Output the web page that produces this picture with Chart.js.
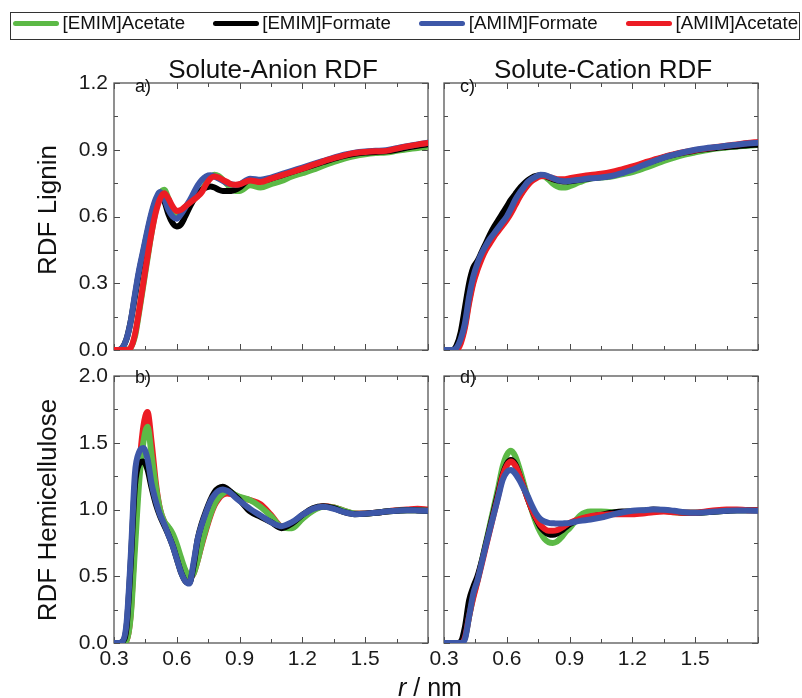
<!DOCTYPE html>
<html><head><meta charset="utf-8">
<script src="https://cdn.jsdelivr.net/npm/chart.js@4.4.1/dist/chart.umd.min.js"></script>
<style>
html,body{margin:0;padding:0;background:#fff;}
#wrap{position:relative;width:802px;height:698px;overflow:hidden;font-family:"Liberation Sans",Arial,sans-serif;color:#111;}
canvas{position:absolute;left:0;top:0;}
.t{position:absolute;white-space:nowrap;line-height:1;}
.sw{position:absolute;height:5px;border-radius:2.5px;}
</style></head><body>
<div id="wrap">
<canvas id="cA" width="802" height="698"></canvas>
<canvas id="cB" width="802" height="698"></canvas>
<canvas id="cC" width="802" height="698"></canvas>
<canvas id="cD" width="802" height="698"></canvas>
<div id="legbox" style="position:absolute;left:10px;top:12px;width:788px;height:26px;border:1px solid #333;"></div>
<div id="legend"></div>
<div class="t" style="left:273px;top:56px;font-size:26px;transform:translateX(-50%);">Solute-Anion RDF</div>
<div class="t" style="left:603px;top:56px;font-size:26px;transform:translateX(-50%);">Solute-Cation RDF</div>
<div class="t" style="left:47px;top:210px;font-size:26px;transform:translate(-50%,-50%) rotate(-90deg);">RDF Lignin</div>
<div class="t" style="left:47px;top:510px;font-size:26px;transform:translate(-50%,-50%) rotate(-90deg);">RDF Hemicellulose</div>
<div class="t" style="left:430px;top:675px;font-size:25px;transform:translateX(-50%);"><i>r</i> / nm</div>
<div class="t" style="left:135px;top:77px;font-size:18px;">a)</div>
<div class="t" style="left:135px;top:368px;font-size:18px;">b)</div>
<div class="t" style="left:460px;top:77px;font-size:18px;">c)</div>
<div class="t" style="left:460px;top:368px;font-size:18px;">d)</div>
</div>
<script>
// ---------- data ----------
const SERIES = ['[EMIM]Acetate', '[EMIM]Formate', '[AMIM]Formate', '[AMIM]Acetate'];
const COLORS = ['#5cb946', '#000000', '#3d57a8', '#ec1c24'];
const R = [0.30,0.32,0.34,0.36,0.38,0.40,0.42,0.44,0.46,0.48,0.50,0.52,0.54,0.56,0.58,0.60,0.62,0.64,0.66,0.68,0.70,0.72,0.74,0.76,0.78,0.80,0.82,0.84,0.86,0.88,0.90,0.95,1.00,1.05,1.10,1.15,1.20,1.25,1.30,1.35,1.40,1.45,1.50,1.55,1.60,1.65,1.70,1.75,1.80];
const X_TICKS = [0.3, 0.6, 0.9, 1.2, 1.5];

// a) Solute-Anion, Lignin
const anionLigninEmimAc = [0,0,0,0,0.01,0.06,0.17,0.29,0.41,0.53,0.63,0.70,0.72,0.68,0.625,0.60,0.61,0.63,0.655,0.675,0.695,0.72,0.75,0.775,0.788,0.782,0.765,0.745,0.725,0.715,0.715,0.74,0.73,0.745,0.76,0.78,0.795,0.81,0.828,0.845,0.86,0.872,0.88,0.885,0.888,0.895,0.902,0.908,0.915];
const anionLigninEmimFo = [0,0,0.01,0.05,0.13,0.24,0.35,0.44,0.53,0.61,0.67,0.70,0.67,0.61,0.57,0.555,0.565,0.60,0.64,0.675,0.70,0.72,0.73,0.735,0.73,0.72,0.715,0.715,0.715,0.72,0.73,0.765,0.76,0.77,0.785,0.80,0.815,0.83,0.845,0.86,0.873,0.882,0.888,0.89,0.893,0.90,0.91,0.918,0.925];
const anionLigninAmimFo = [0,0,0.01,0.05,0.13,0.25,0.36,0.45,0.54,0.62,0.68,0.71,0.68,0.63,0.60,0.59,0.61,0.64,0.67,0.705,0.74,0.765,0.78,0.785,0.78,0.77,0.76,0.75,0.745,0.742,0.745,0.77,0.765,0.775,0.79,0.805,0.82,0.835,0.85,0.865,0.878,0.887,0.892,0.895,0.898,0.907,0.916,0.924,0.932];
const anionLigninAmimAc = [0,0,0,0,0.01,0.07,0.18,0.30,0.42,0.53,0.62,0.68,0.705,0.68,0.645,0.625,0.63,0.645,0.66,0.675,0.69,0.71,0.745,0.77,0.78,0.775,0.765,0.755,0.745,0.743,0.745,0.762,0.755,0.77,0.785,0.80,0.815,0.832,0.848,0.862,0.875,0.885,0.89,0.893,0.895,0.905,0.915,0.923,0.93];

// b) Solute-Anion, Hemicellulose
const anionHemiEmimAc = [0,0,0,0.02,0.2,0.7,1.2,1.5,1.62,1.40,1.17,1.0,0.91,0.87,0.82,0.74,0.64,0.55,0.495,0.52,0.62,0.75,0.86,0.96,1.04,1.09,1.12,1.14,1.13,1.11,1.095,1.07,1.02,0.95,0.87,0.86,0.93,0.99,1.02,1.015,0.99,0.97,0.968,0.975,0.985,0.99,0.995,0.995,0.99];
const anionHemiEmimFo = [0,0,0.01,0.12,0.6,1.18,1.34,1.36,1.30,1.16,1.04,0.95,0.88,0.81,0.73,0.63,0.53,0.465,0.45,0.58,0.78,0.90,0.99,1.07,1.13,1.16,1.17,1.155,1.13,1.10,1.07,0.985,0.945,0.905,0.86,0.895,0.96,1.01,1.025,1.01,0.98,0.965,0.968,0.975,0.985,0.99,0.995,0.993,0.99];
const anionHemiAmimFo = [0,0,0.01,0.15,0.65,1.27,1.43,1.46,1.38,1.19,1.06,0.96,0.89,0.81,0.73,0.63,0.53,0.465,0.445,0.6,0.78,0.89,0.98,1.06,1.11,1.14,1.15,1.14,1.12,1.09,1.065,1.005,0.955,0.905,0.875,0.905,0.96,1.005,1.02,1.005,0.98,0.965,0.968,0.975,0.985,0.99,0.995,0.993,0.99];
const anionHemiAmimAc = [0,0,0,0.02,0.22,0.8,1.3,1.62,1.73,1.50,1.2,1.0,0.91,0.86,0.80,0.72,0.62,0.54,0.49,0.52,0.62,0.74,0.85,0.95,1.03,1.08,1.11,1.12,1.115,1.10,1.09,1.07,1.04,0.96,0.875,0.87,0.935,0.995,1.025,1.015,0.99,0.97,0.97,0.975,0.985,0.995,1.0,1.005,1.0];

// c) Solute-Cation, Lignin
const cationLigninEmimAc = [0,0,0,0.005,0.04,0.11,0.22,0.31,0.37,0.42,0.46,0.49,0.52,0.545,0.57,0.595,0.625,0.66,0.69,0.72,0.745,0.765,0.777,0.783,0.78,0.765,0.748,0.736,0.73,0.73,0.736,0.755,0.77,0.775,0.78,0.79,0.80,0.815,0.832,0.85,0.865,0.878,0.888,0.897,0.905,0.91,0.915,0.918,0.922];
const cationLigninEmimFo = [0,0,0,0.02,0.08,0.19,0.30,0.37,0.40,0.44,0.48,0.52,0.555,0.585,0.615,0.645,0.675,0.70,0.725,0.745,0.762,0.775,0.782,0.785,0.783,0.775,0.768,0.762,0.758,0.757,0.758,0.765,0.772,0.777,0.785,0.798,0.815,0.833,0.85,0.866,0.878,0.888,0.897,0.903,0.908,0.912,0.916,0.92,0.923];
const cationLigninAmimFo = [0,0,0,0.01,0.05,0.12,0.24,0.33,0.39,0.435,0.47,0.50,0.525,0.55,0.575,0.60,0.635,0.675,0.705,0.73,0.755,0.77,0.78,0.788,0.787,0.78,0.772,0.765,0.76,0.758,0.76,0.765,0.772,0.775,0.782,0.795,0.81,0.83,0.848,0.865,0.878,0.89,0.90,0.907,0.912,0.918,0.923,0.928,0.932];
const cationLigninAmimAc = [0,0,0,0,0.03,0.10,0.21,0.30,0.36,0.41,0.45,0.48,0.51,0.535,0.56,0.585,0.615,0.65,0.685,0.715,0.74,0.76,0.772,0.78,0.782,0.778,0.772,0.768,0.767,0.768,0.772,0.78,0.787,0.792,0.80,0.812,0.825,0.84,0.855,0.868,0.88,0.89,0.898,0.905,0.912,0.918,0.924,0.93,0.935];

// d) Solute-Cation, Hemicellulose
const cationHemiEmimAc = [0,0,0,0,0,0.04,0.2,0.35,0.47,0.61,0.75,0.89,1.03,1.17,1.32,1.41,1.44,1.40,1.31,1.20,1.09,0.99,0.90,0.83,0.78,0.755,0.75,0.76,0.79,0.83,0.86,0.955,0.985,0.985,0.98,0.98,0.985,0.99,0.995,0.99,0.98,0.975,0.975,0.98,0.985,0.99,0.995,0.995,0.995];
const cationHemiEmimFo = [0,0,0,0,0.01,0.12,0.32,0.42,0.50,0.61,0.74,0.87,1.0,1.13,1.26,1.34,1.37,1.34,1.26,1.17,1.08,1.0,0.93,0.87,0.835,0.815,0.81,0.82,0.84,0.865,0.89,0.925,0.945,0.96,0.975,0.985,0.985,0.99,1.0,0.995,0.985,0.975,0.975,0.98,0.985,0.99,0.995,0.995,0.995];
const cationHemiAmimFo = [0,0,0,0,0,0.03,0.2,0.37,0.47,0.6,0.73,0.855,0.975,1.10,1.22,1.28,1.295,1.27,1.22,1.16,1.10,1.03,0.97,0.93,0.91,0.90,0.897,0.895,0.895,0.897,0.90,0.915,0.925,0.94,0.96,0.978,0.99,0.995,1.0,0.998,0.99,0.98,0.975,0.98,0.985,0.99,0.993,0.993,0.99];
const cationHemiAmimAc = [0,0,0,0,0,0.04,0.2,0.34,0.46,0.59,0.72,0.85,0.98,1.11,1.25,1.33,1.36,1.33,1.26,1.17,1.08,1.0,0.935,0.885,0.855,0.84,0.84,0.845,0.86,0.88,0.90,0.93,0.95,0.96,0.965,0.965,0.965,0.97,0.98,0.985,0.98,0.975,0.975,0.985,0.995,1.0,1.0,0.995,0.995];

// ---------- legend ----------
const LEG_X = [13, 212.7, 419.3, 626];
const leg = document.getElementById('legend');
SERIES.forEach((name, i) => {
  const sw = document.createElement('div');
  sw.className = 'sw';
  sw.style.cssText = `left:${LEG_X[i]}px;top:20.5px;width:46px;background:${COLORS[i]};`;
  leg.appendChild(sw);
  const tx = document.createElement('div');
  tx.className = 't';
  tx.style.cssText = `left:${LEG_X[i] + 49.5}px;top:14px;font-size:18.7px;`;
  tx.textContent = name;
  leg.appendChild(tx);
});

// ---------- frame + inward ticks ----------
const framePlugin = {
  id: 'frame',
  beforeDatasetsDraw(chart, args, o) {
    const {ctx, chartArea: a, scales: {x, y}} = chart;
    const ln = (x1, y1, x2, y2) => { ctx.beginPath(); ctx.moveTo(x1, y1); ctx.lineTo(x2, y2); ctx.stroke(); };
    ctx.save();
    ctx.strokeStyle = '#4a4a4a';
    ctx.lineWidth = 1;
    for (let k = 0; k <= 10; k++) {
      const px = Math.round(x.getPixelForValue(0.3 + 0.15 * k)) + 0.5;
      const L = k % 2 === 0 ? 6 : 4;
      ln(px, a.bottom, px, a.bottom - L);
      ln(px, a.top, px, a.top + L);
    }
    const n = Math.round(o.ymax / o.ystep);
    for (let k = 0; k <= n; k++) {
      const py = Math.round(y.getPixelForValue(o.ystep * k)) + 0.5;
      const L = k % 2 === 0 ? 6 : 4;
      ln(a.left, py, a.left + L, py);
      ln(a.right, py, a.right - L, py);
    }
    ctx.strokeStyle = '#555';
    ctx.lineWidth = 1.3;
    ctx.strokeRect(a.left, a.top, a.right - a.left, a.bottom - a.top);
    ctx.restore();
  }
};

const Y_AXIS_W = 60, X_AXIS_H = 40;
function makeChart(id, box, series, order, ymax, ymajor, showX, showY) {
  const datasets = series.map((arr, i) => ({
    label: SERIES[i],
    data: R.map((r, j) => ({x: r, y: arr[j]})),
    borderColor: COLORS[i],
    borderWidth: 6,
    pointRadius: 0,
    fill: false,
    cubicInterpolationMode: 'monotone',
    borderCapStyle: 'round',
    borderJoinStyle: 'round',
    order: order[i]
  }));
  const tickFont = {family: '"Liberation Sans", Arial, sans-serif', size: 21};
  return new Chart(document.getElementById(id), {
    type: 'line',
    data: {datasets},
    options: {
      responsive: false,
      animation: false,
      events: [],
      layout: {padding: {left: box[0] - Y_AXIS_W, top: box[1], right: 802 - box[2], bottom: 698 - box[3] - X_AXIS_H}},
      plugins: {legend: {display: false}, tooltip: {enabled: false}, frame: {ymax, ystep: ymajor / 2}},
      scales: {
        x: {
          type: 'linear', min: 0.3, max: 1.8,
          grid: {display: false, drawTicks: false}, border: {display: false},
          afterFit: s => { s.height = X_AXIS_H; },
          afterBuildTicks: s => { s.ticks = X_TICKS.map(v => ({value: v})); },
          ticks: {display: showX, padding: 4, color: '#1a1a1a', font: tickFont, callback: v => v.toFixed(1)}
        },
        y: {
          type: 'linear', min: 0, max: ymax,
          grid: {display: false, drawTicks: false}, border: {display: false},
          afterFit: s => { s.width = Y_AXIS_W; },
          ticks: {display: showY, stepSize: ymajor, padding: 6, color: '#1a1a1a', font: tickFont, callback: v => v.toFixed(1)}
        }
      }
    },
    plugins: [framePlugin]
  });
}

// order: lower = drawn on top
makeChart('cA', [114, 83, 428, 350],
  [anionLigninEmimAc, anionLigninEmimFo, anionLigninAmimFo, anionLigninAmimAc], [3, 2, 1, 0], 1.2, 0.3, false, true);
makeChart('cB', [114, 376, 428, 643],
  [anionHemiEmimAc, anionHemiEmimFo, anionHemiAmimFo, anionHemiAmimAc], [2, 1, 0, 3], 2.0, 0.5, true, true);
makeChart('cC', [444, 83, 758, 350],
  [cationLigninEmimAc, cationLigninEmimFo, cationLigninAmimFo, cationLigninAmimAc], [3, 2, 0, 1], 1.2, 0.3, false, false);
makeChart('cD', [444, 376, 758, 643],
  [cationHemiEmimAc, cationHemiEmimFo, cationHemiAmimFo, cationHemiAmimAc], [3, 2, 0, 1], 2.0, 0.5, true, false);
</script>
</body></html>
